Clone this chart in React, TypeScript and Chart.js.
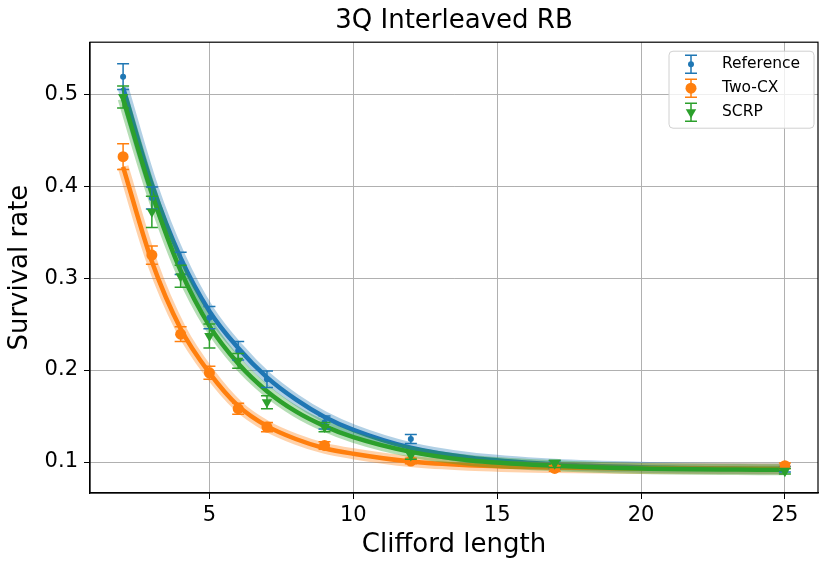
import { useEffect, useRef } from "react";
import { Chart, registerables } from "chart.js";

Chart.register(...registerables);

// measured points (Clifford length vs survival rate) with error bars
const cliffordLengths = [2, 3, 4, 5, 6, 7, 9, 12, 17, 25];
const referenceRate = [0.519, 0.387, 0.316, 0.257, 0.221, 0.19, 0.143, 0.125, 0.097, 0.092];
const referenceErr = [0.014, 0.012, 0.012, 0.012, 0.01, 0.009, 0.007, 0.005, 0.004, 0.003];
const twoCxRate = [0.432, 0.325, 0.239, 0.197, 0.158, 0.138, 0.118, 0.101, 0.093, 0.096];
const twoCxErr = [0.014, 0.01, 0.008, 0.007, 0.006, 0.005, 0.004, 0.003, 0.003, 0.003];
const scrpRate = [0.497, 0.372, 0.302, 0.237, 0.21, 0.165, 0.138, 0.107, 0.098, 0.09];
const scrpErr = [0.012, 0.017, 0.012, 0.013, 0.008, 0.007, 0.005, 0.004, 0.004, 0.003];

// fitted decay curves
const fitLengths = [2, 3, 4, 5, 6, 7, 8, 9, 10, 12, 14, 17, 20, 25];
const referenceFit = [0.507, 0.402, 0.322, 0.264, 0.224, 0.192, 0.168, 0.149, 0.135, 0.1155, 0.105, 0.0976, 0.0944, 0.0926];
const twoCxFit = [0.421, 0.318, 0.245, 0.197, 0.161, 0.139, 0.125, 0.115, 0.109, 0.1005, 0.0965, 0.094, 0.093, 0.0925];
const scrpFit = [0.495, 0.392, 0.308, 0.248, 0.207, 0.177, 0.155, 0.139, 0.127, 0.111, 0.102, 0.096, 0.093, 0.0915];

const xTicks = [5, 10, 15, 20, 25];
const xTickLabels = ["5", "10", "15", "20", "25"];
const yTicks = [0.1, 0.2, 0.3, 0.4, 0.5];
const yTickLabels = ["0.1", "0.2", "0.3", "0.4", "0.5"];

const BLUE = "#1f77b4";
const ORANGE = "#ff7f0e";
const GREEN = "#2ca02c";

const pts = (xs: number[], ys: number[]) => xs.map((x, i) => ({ x, y: ys[i] }));

const errorBars = {
    id: "errorBars",
    beforeDatasetDraw(chart: any, args: any) {
        const ds = chart.data.datasets[args.index];
        if (!ds.errors) return;
        const { ctx, scales } = chart;
        ctx.save();
        ctx.strokeStyle = ds.errColor;
        ctx.lineWidth = 1.5;
        ds.data.forEach((p: { x: number; y: number }, i: number) => {
            const px = scales.x.getPixelForValue(p.x);
            const top = scales.y.getPixelForValue(p.y + ds.errors[i]);
            const bot = scales.y.getPixelForValue(p.y - ds.errors[i]);
            ctx.beginPath();
            ctx.moveTo(px, top);
            ctx.lineTo(px, bot);
            ctx.moveTo(px - 6, top);
            ctx.lineTo(px + 6, top);
            ctx.moveTo(px - 6, bot);
            ctx.lineTo(px + 6, bot);
            ctx.stroke();
        });
        ctx.restore();
    },
};

const frameAndLegend = {
    id: "frameAndLegend",
    afterDraw(chart: any) {
        const { ctx, chartArea: a } = chart;
        ctx.save();
        ctx.strokeStyle = "#000";
        ctx.lineWidth = 1.2;
        ctx.strokeRect(a.left, a.top, a.right - a.left, a.bottom - a.top);

        // legend box, upper right inside the axes
        const bx = a.right - 149, by = a.top + 9, bw = 145, bh = 77;
        ctx.fillStyle = "rgba(255,255,255,0.8)";
        ctx.strokeStyle = "#d0d0d0";
        ctx.lineWidth = 1;
        ctx.beginPath();
        ctx.roundRect(bx, by, bw, bh, 4);
        ctx.fill();
        ctx.stroke();

        const items = chart.data.datasets.filter((d: any) => d.errors);
        items.forEach((d: any, i: number) => {
            const cy = by + 13 + i * 24;
            const cx = bx + 22;
            ctx.strokeStyle = d.errColor;
            ctx.lineWidth = 1.5;
            ctx.beginPath();
            ctx.moveTo(cx, cy - 9);
            ctx.lineTo(cx, cy + 9);
            ctx.moveTo(cx - 6, cy - 9);
            ctx.lineTo(cx + 6, cy - 9);
            ctx.moveTo(cx - 6, cy + 9);
            ctx.lineTo(cx + 6, cy + 9);
            ctx.stroke();
            ctx.fillStyle = d.errColor;
            ctx.beginPath();
            if (d.pointStyle === "triangle") {
                const r = d.pointRadius;
                ctx.moveTo(cx, cy + r);
                ctx.lineTo(cx - r * 0.87, cy - r * 0.5);
                ctx.lineTo(cx + r * 0.87, cy - r * 0.5);
                ctx.closePath();
            } else {
                ctx.arc(cx, cy, d.pointRadius, 0, Math.PI * 2);
            }
            ctx.fill();
            ctx.fillStyle = "#000";
            ctx.font = "15.5px 'DejaVu Sans', sans-serif";
            ctx.textBaseline = "middle";
            ctx.fillText(d.label, bx + 53, cy);
        });
        ctx.restore();
    },
};

export default function App() {
    const canvasRef = useRef<HTMLCanvasElement | null>(null);

    useEffect(() => {
        document.body.style.margin = "0";
        if (!canvasRef.current) {
            return;
        }
        Chart.defaults.font.family = "'DejaVu Sans', sans-serif";
        Chart.defaults.color = "#000";

        const pointSet = (label: string, ys: number[], errs: number[], color: string, style: string, r: number, order: number) => ({
            type: "scatter" as const,
            label,
            data: pts(cliffordLengths, ys),
            errors: errs,
            errColor: color,
            backgroundColor: color,
            borderColor: color,
            borderWidth: 0,
            pointStyle: style,
            pointRadius: r,
            rotation: style === "triangle" ? 180 : 0,
            order,
        });

        const fitSet = (ys: number[], color: string, width: number, order: number) => ({
            type: "line" as const,
            label: "",
            data: pts(fitLengths, ys),
            borderColor: color,
            borderWidth: width,
            pointRadius: 0,
            fill: false,
            cubicInterpolationMode: "monotone" as const,
            order,
        });

        const chart = new Chart(canvasRef.current, {
            type: "scatter",
            data: {
                datasets: [
                    pointSet("Reference", referenceRate, referenceErr, BLUE, "circle", 3, 3),
                    pointSet("Two-CX", twoCxRate, twoCxErr, ORANGE, "circle", 5.5, 2),
                    pointSet("SCRP", scrpRate, scrpErr, GREEN, "triangle", 6, 1),
                    fitSet(scrpFit, GREEN, 4.5, 4),
                    fitSet(scrpFit, "rgba(44,160,44,0.35)", 11, 5),
                    fitSet(twoCxFit, ORANGE, 4.5, 6),
                    fitSet(twoCxFit, "rgba(255,127,14,0.35)", 11, 7),
                    fitSet(referenceFit, BLUE, 4.5, 8),
                    fitSet(referenceFit, "rgba(31,119,180,0.35)", 11, 9),
                ] as any,
            },
            options: {
                animation: false,
                responsive: true,
                maintainAspectRatio: false,
                events: [],
                layout: { padding: { left: 0, right: 12, top: 0, bottom: 0 } },
                plugins: {
                    legend: { display: false },
                    tooltip: { enabled: false },
                    title: {
                        display: true,
                        text: "3Q Interleaved RB",
                        fullSize: false,
                        font: { size: 26, weight: "normal" },
                        padding: { top: 6, bottom: 5 },
                        color: "#000",
                    },
                },
                scales: {
                    x: {
                        type: "linear",
                        min: 0.85,
                        max: 26.15,
                        afterBuildTicks: (s: any) => {
                            s.ticks = xTicks.map((v) => ({ value: v }));
                        },
                        afterFit: (s: any) => {
                            s.height = 73;
                        },
                        ticks: {
                            font: { size: 21 },
                            padding: 4,
                            maxRotation: 0,
                            callback: (_v: any, i: number) => xTickLabels[i],
                        },
                        grid: { color: "#b0b0b0", lineWidth: 1, tickLength: 6, tickColor: "#000" },
                        border: { color: "#000", width: 1.2 },
                        title: {
                            display: true,
                            text: "Clifford length",
                            font: { size: 26 },
                            padding: { top: 0, bottom: 5 },
                        },
                    },
                    y: {
                        type: "linear",
                        min: 0.0663,
                        max: 0.5565,
                        afterBuildTicks: (s: any) => {
                            s.ticks = yTicks.map((v) => ({ value: v }));
                        },
                        afterFit: (s: any) => {
                            s.width = 90;
                        },
                        ticks: {
                            font: { size: 21 },
                            padding: 6,
                            callback: (_v: any, i: number) => yTickLabels[i],
                        },
                        grid: { color: "#b0b0b0", lineWidth: 1, tickLength: 6, tickColor: "#000" },
                        border: { color: "#000", width: 1.2 },
                        title: {
                            display: true,
                            text: "Survival rate",
                            font: { size: 26 },
                            padding: { top: 5, bottom: 4 },
                        },
                    },
                },
            },
            plugins: [errorBars, frameAndLegend],
        });

        return () => chart.destroy();
    }, []);

    return (
        <div style={{ width: 830, height: 566, position: "relative", background: "#fff" }}>
            <canvas ref={canvasRef} />
        </div>
    );
}
